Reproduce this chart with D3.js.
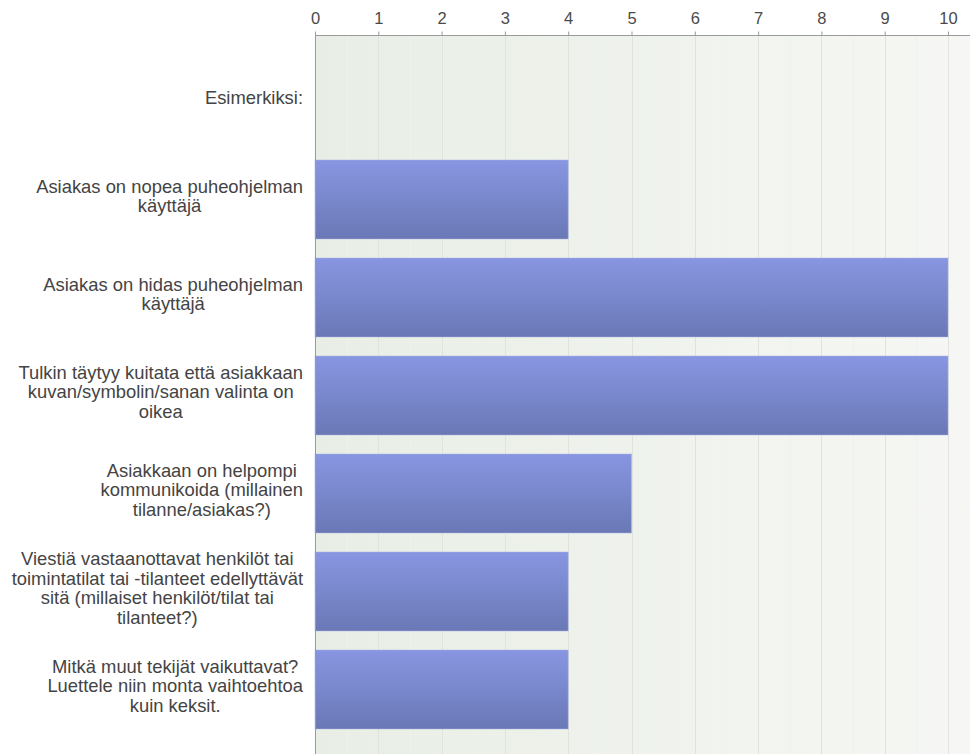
<!DOCTYPE html>
<html>
<head>
<meta charset="utf-8">
<script src="https://cdn.jsdelivr.net/npm/d3@7"></script>
<style>
  html, body { margin: 0; padding: 0; background: #fff; }
  svg { display: block; }
</style>
</head>
<body>
<svg id="chart" width="970" height="754"></svg>
<script>
// Survey answers: one entry per row, label lines split as shown
const categories = [
  ["Esimerkiksi:"],
  ["Asiakas on nopea puheohjelman", "käyttäjä"],
  ["Asiakas on hidas puheohjelman", "käyttäjä"],
  ["Tulkin täytyy kuitata että asiakkaan", "kuvan/symbolin/sanan valinta on", "oikea"],
  ["Asiakkaan on helpompi", "kommunikoida (millainen", "tilanne/asiakas?)"],
  ["Viestiä vastaanottavat henkilöt tai", "toimintatilat tai -tilanteet edellyttävät", "sitä (millaiset henkilöt/tilat tai", "tilanteet?)"],
  ["Mitkä muut tekijät vaikuttavat?", "Luettele niin monta vaihtoehtoa", "kuin keksit."]
];
const values = [0, 4, 10, 10, 5, 4, 4];
const tickValues = [0, 1, 2, 3, 4, 5, 6, 7, 8, 9, 10];

const W = 970, H = 754;
const plotLeft = 315, plotTop = 35;
const svg = d3.select("#chart");

const x = d3.scaleLinear().domain([0, 10]).range([plotLeft, 948]);
const y = d3.scaleBand()
  .domain(d3.range(categories.length))
  .range([52.5, 52.5 + 98 * categories.length])
  .paddingInner(0.194)
  .paddingOuter(0.097);

const defs = svg.append("defs");
const bg = defs.append("linearGradient").attr("id", "bgGrad")
  .attr("x1", "0").attr("x2", "1").attr("y1", "0").attr("y2", "0");
bg.append("stop").attr("offset", "0").attr("stop-color", "#e8eee5");
bg.append("stop").attr("offset", "1").attr("stop-color", "#f6f7f4");

const barGrad = defs.append("linearGradient").attr("id", "barGrad")
  .attr("x1", "0").attr("x2", "0").attr("y1", "0").attr("y2", "1");
barGrad.append("stop").attr("offset", "0").attr("stop-color", "#8896e2");
barGrad.append("stop").attr("offset", "1").attr("stop-color", "#6a78b6");

// plot background
svg.append("rect")
  .attr("x", plotLeft).attr("y", plotTop)
  .attr("width", W - plotLeft).attr("height", H - plotTop)
  .attr("fill", "url(#bgGrad)");

// faint half-step lines
svg.append("g").selectAll("line")
  .data(d3.range(0.5, 10.5, 1))
  .join("line")
  .attr("x1", d => Math.round(x(d)) + 0.5).attr("x2", d => Math.round(x(d)) + 0.5)
  .attr("y1", plotTop).attr("y2", H)
  .attr("stroke", "#eef2ec").attr("stroke-width", 1);

// vertical gridlines
svg.append("g").selectAll("line")
  .data(tickValues.slice(1))
  .join("line")
  .attr("x1", d => Math.round(x(d)) + 0.5).attr("x2", d => Math.round(x(d)) + 0.5)
  .attr("y1", plotTop).attr("y2", H)
  .attr("stroke", "#dfe2dd").attr("stroke-width", 1);

// bars
svg.append("g").selectAll("rect")
  .data(values.map((v, i) => ({ v, i })).filter(d => d.v > 0))
  .join("rect")
  .attr("x", x(0))
  .attr("y", d => y(d.i))
  .attr("width", d => x(d.v) - x(0))
  .attr("height", y.bandwidth())
  .attr("fill", "url(#barGrad)")
  .attr("stroke", "#a9b3e6")
  .attr("stroke-opacity", 0.5)
  .attr("stroke-width", 1);

// top axis
const axis = d3.axisTop(x).tickValues(tickValues).tickSize(4).tickSizeOuter(0).tickPadding(8);
const gAxis = svg.append("g").attr("transform", `translate(0,${plotTop + 0.5})`).call(axis);
gAxis.select(".domain").attr("stroke", "#9a9a9a").attr("d", `M${plotLeft},0H${W}`);
gAxis.selectAll(".tick line").attr("stroke", "#9a9a9a");
gAxis.selectAll(".tick text")
  .attr("fill", "#4a4a4a")
  .style("font-family", "'Liberation Sans', Arial, sans-serif")
  .style("font-size", "16.5px");

// left axis line
svg.append("line")
  .attr("x1", plotLeft + 0.5).attr("x2", plotLeft + 0.5)
  .attr("y1", plotTop).attr("y2", H)
  .attr("stroke", "#9a9a9a");

// category labels: block right-aligned, lines centred inside the block
const lineH = 19.5;
const labels = svg.append("g")
  .style("font-family", "'Liberation Sans', Arial, sans-serif")
  .style("font-size", "18.4px")
  .attr("fill", "#444");

categories.forEach((lines, i) => {
  const g = labels.append("g");
  const cy = y(i) + y.bandwidth() / 2 - 3.5;
  const texts = lines.map((s, k) =>
    g.append("text")
      .attr("text-anchor", "middle")
      .attr("y", cy + (k - (lines.length - 1) / 2) * lineH)
      .attr("dy", "0.35em")
      .text(s));
  const maxW = d3.max(texts, t => t.node().getComputedTextLength());
  texts.forEach(t => t.attr("x", 303 - maxW / 2));
});
</script>
</body>
</html>
